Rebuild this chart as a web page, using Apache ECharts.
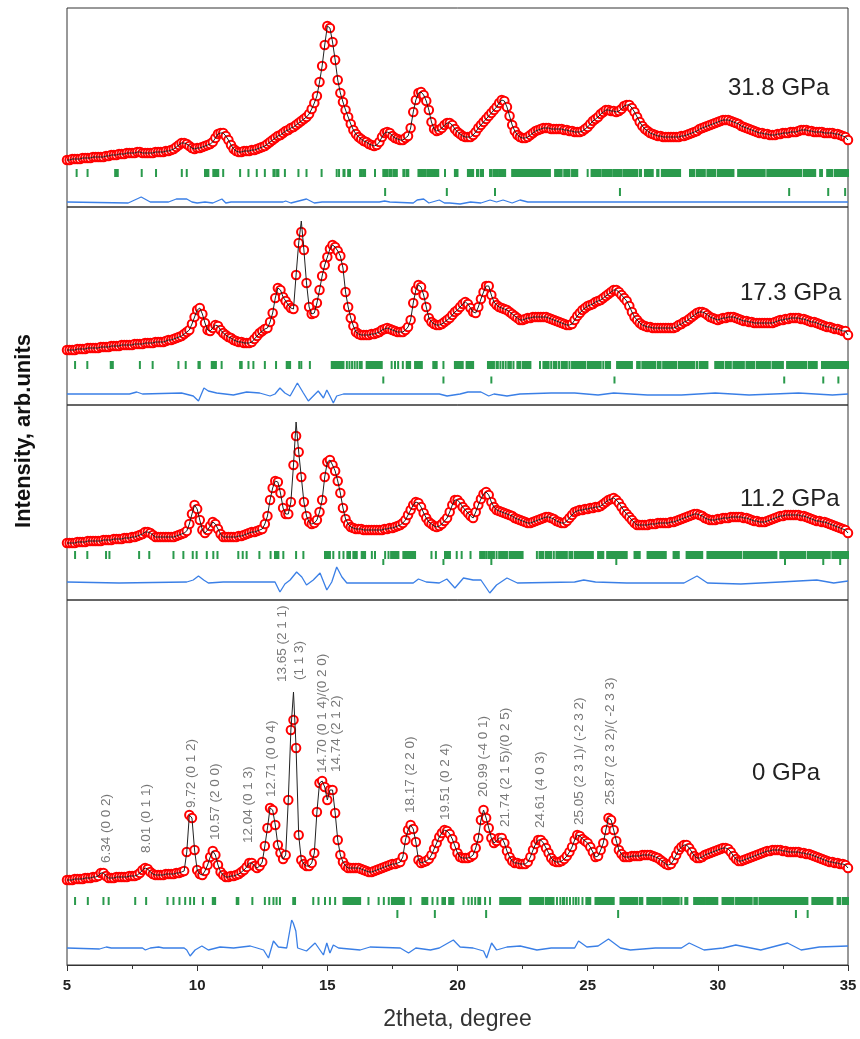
<!DOCTYPE html>
<html>
<head>
<meta charset="utf-8">
<script src="https://cdn.jsdelivr.net/npm/echarts@6/dist/echarts.min.js"></script>
<style>
html,body{margin:0;padding:0;background:#fff;}
#chart{width:860px;height:1039px;}
</style>
</head>
<body>
<div id="chart"></div>
<script>
// ---------------- DATA ----------------
// sampling grid of the observed patterns (2theta, degree)
const theta0 = 5;
const dTheta = 0.1;

// observed intensities (arb. units), one value per 0.1 degree from 5 to 35
const obs318 = [
47,47,48,48,48,48,49,49,49,49,
50,50,50,50,50,51,51,52,52,52,
53,53,53,54,54,54,54,55,55,54,
54,54,54,54,55,55,55,55,56,56,
57,58,60,62,64,64,63,61,59,58,
59,59,60,61,62,63,65,69,73,74,
74,71,67,62,58,56,55,55,56,56,
56,57,57,58,59,60,61,63,65,67,
69,71,72,74,76,77,79,80,82,84,
86,88,90,93,98,104,111,125,141,162,
181,179,165,147,127,114,105,97,90,83,
77,73,70,68,66,65,63,62,61,62,
65,70,74,75,74,71,69,68,67,67,
69,71,79,95,107,114,115,112,106,97,
85,78,76,77,79,82,84,84,82,78,
75,73,71,70,70,70,72,75,79,82,
85,88,91,94,97,100,104,107,106,100,
91,82,76,72,70,69,69,70,72,74,
76,77,78,79,79,79,78,78,78,78,
78,77,77,76,76,75,75,75,76,78,
80,83,86,88,90,93,95,97,97,96,
96,95,96,98,101,102,102,99,95,90,
85,81,78,76,74,73,72,71,71,70,
70,70,70,70,70,70,71,71,72,73,
74,75,76,78,79,80,81,82,83,84,
85,86,87,87,87,86,85,84,83,81,
80,79,78,77,76,75,74,74,73,73,
72,72,72,73,73,74,74,74,75,75,
75,76,77,77,77,76,76,75,75,75,
75,74,74,74,74,73,73,72,71,70,
67];
const obs173 = [
55,55,55,55,56,56,56,56,57,57,
57,57,57,58,58,58,58,59,59,59,
59,60,60,60,60,60,61,61,61,61,
62,62,62,62,63,63,63,63,64,65,
65,66,67,68,69,71,73,75,81,88,
95,97,91,82,75,74,77,80,79,75,
72,70,68,67,65,64,63,63,62,62,
62,63,66,69,72,74,76,77,83,92,
107,117,115,108,104,100,97,96,130,162,
173,155,122,98,91,92,102,115,129,140,
148,156,160,158,154,149,137,113,98,87,
79,73,71,70,70,70,70,71,71,72,
73,75,76,77,76,75,74,73,73,73,
75,78,85,102,115,120,118,110,98,87,
83,81,80,80,81,83,85,87,90,93,
95,98,101,103,101,97,93,92,98,106,
113,119,119,110,103,100,98,97,96,95,
93,91,89,87,85,85,86,87,87,88,
88,88,88,88,88,87,86,85,84,83,
82,81,80,80,81,85,89,92,95,97,
99,100,101,103,104,105,107,109,111,113,
115,115,113,110,107,104,99,93,88,85,
82,80,79,78,78,77,77,77,77,77,
77,77,77,77,78,80,81,83,84,86,
88,90,92,93,93,92,90,88,87,86,
85,86,87,87,88,88,88,87,86,85,
84,84,83,83,82,82,82,82,82,82,
82,82,83,84,85,85,86,86,87,87,
87,87,86,86,85,84,83,83,82,81,
80,79,78,78,77,76,76,75,74,74,
70];
const obs112 = [
57,57,57,57,58,58,58,58,59,59,
59,59,59,59,60,60,60,60,61,61,
61,61,62,62,62,63,63,64,65,66,
68,68,67,65,63,63,63,63,63,63,
63,63,64,65,66,67,69,76,86,95,
91,80,70,67,70,74,78,76,71,66,
63,63,63,63,63,63,64,64,65,66,
67,68,68,69,70,71,76,84,100,112,
119,118,107,92,86,86,98,135,164,148,
123,98,84,78,76,77,80,88,100,123,
138,140,135,129,119,107,92,81,76,73,
72,71,71,71,70,70,70,70,70,70,
70,70,71,71,72,72,73,74,75,77,
80,85,90,95,98,97,93,87,82,78,
76,74,73,74,76,79,82,88,95,100,
100,97,93,90,87,84,82,88,95,101,
106,108,105,98,93,90,89,88,87,86,
85,84,82,81,80,79,78,77,77,78,
79,80,81,82,83,83,82,81,79,78,
77,77,79,82,85,88,89,90,90,91,
91,92,92,93,93,94,96,98,100,101,
102,100,97,93,89,86,83,80,77,75,
75,75,75,75,76,76,76,77,77,77,
77,77,78,78,79,80,81,82,83,84,
85,86,86,85,84,82,81,80,80,80,
81,81,82,82,82,83,83,83,83,83,
82,82,81,80,79,79,78,78,78,79,
80,81,82,83,84,84,85,85,85,85,
85,85,84,84,83,82,81,80,79,79,
78,78,77,76,75,74,73,72,71,70,
67];
const obs0 = [
85,85,85,86,86,86,86,87,87,87,
88,88,89,92,92,89,87,87,87,88,
88,88,88,88,89,89,89,90,92,95,
97,96,93,91,90,90,90,90,91,91,
91,91,92,92,93,94,113,150,147,115,
95,91,90,94,100,108,114,110,100,93,
90,88,88,89,89,90,91,93,95,98,
102,102,99,97,99,103,119,137,157,155,
140,120,112,106,110,165,235,245,217,130,
105,101,99,99,102,112,153,182,184,178,
165,175,175,152,125,110,103,99,97,97,
97,97,97,96,95,94,93,93,94,95,
96,97,98,99,100,101,101,102,103,108,
125,135,140,136,123,105,102,103,104,106,
110,116,122,128,132,135,134,131,126,119,
112,108,107,107,107,108,110,117,127,145,
155,147,137,127,122,124,127,127,122,114,
108,104,102,102,101,101,101,103,108,115,
121,125,125,122,117,112,107,104,103,103,
104,106,109,113,118,125,130,129,126,124,
122,118,113,108,109,115,122,135,147,145,
135,124,115,111,108,108,108,109,109,109,
109,110,110,110,110,109,108,107,105,103,
101,100,101,105,110,115,118,120,120,117,
113,109,107,107,108,110,111,112,113,114,
115,116,117,117,116,113,109,106,104,104,
105,106,107,108,109,110,111,112,113,114,
114,115,115,115,115,114,114,113,113,113,
113,113,112,112,111,111,110,109,108,107,
106,105,104,103,103,102,102,101,101,100,
97];

// calculated profile: where it differs visibly from the observed points [2theta, intensity]
const calcPeaks318 = [];
const calcPeaks173 = [[14.0, 184]];
const calcPeaks112 = [[13.8, 178]];
const calcPeaks0 = [[13.7, 273]];

// difference curves [2theta, obs-calc]
const diff318 = [[5,0],[7.35,-1],[7.85,5],[8.2,0],[8.9,0],[9.2,3],[9.6,3],[9.8,0],[10.0,-1],[10.3,0],[10.6,-1],[10.95,3],[11.1,-1],[11.3,0],[13.3,0],[13.4,1],[13.6,-1],[13.9,1],[14.2,3],[14.5,-1],[14.8,0],[17.0,0],[17.2,1],[17.4,0],[18.3,-1],[18.45,2],[18.7,3],[18.9,-1],[19.3,2],[19.5,-1],[19.7,-1],[20.1,-2],[20.5,0],[20.9,-1],[21.25,2],[21.5,0],[21.75,2],[22.1,-1],[22.4,2],[22.7,0],[35,0]];
const diff173 = [[5,0],[7.4,0],[7.68,2],[7.9,0],[9.4,1],[9.85,-2],[10.05,-7],[10.26,6],[10.43,3],[10.75,1],[11.39,-1],[11.9,2],[12.4,1],[12.8,-2],[12.99,0],[13.18,6],[13.37,1],[13.57,-2],[13.85,11],[14.08,1],[14.27,-7],[14.46,-2],[14.65,3],[14.85,-4],[14.98,4],[15.1,-2],[15.23,-9],[15.36,-2],[15.62,0],[18.9,0],[19.3,0],[19.6,-2],[20.1,0],[20.4,2],[20.9,2],[21.2,-2],[21.4,0],[21.9,-2],[22.4,0],[23.6,1],[24.5,1],[25.4,-1],[26.0,1],[27.3,-1],[28.6,-1],[29.9,1],[31.2,-1],[33.1,1],[34.4,-1],[35,0]];
const diff112 = [[5,0],[7.0,-1],[9.6,0],[9.85,2],[10.05,6],[10.25,2],[10.43,-1],[11,0],[12.6,0],[12.99,0],[13.18,-10],[13.37,-2],[13.57,2],[13.82,10],[14.02,5],[14.2,-3],[14.46,2],[14.72,9],[14.98,-8],[15.17,0],[15.36,15],[15.56,5],[15.75,-1],[18.3,-1],[18.5,3],[18.8,0],[19.3,-1],[19.59,3],[19.9,-6],[20.23,4],[20.6,2],[20.9,2],[21.24,-11],[21.5,-3],[21.9,4],[22.3,-1],[24.5,0],[24.85,2],[25.3,0],[26.5,-1],[28.7,-1],[29.2,6],[29.6,-1],[30.88,-2],[32.4,0],[33.8,2],[34.45,-1],[35,1]];
const diff0 = [[5,0],[6.25,-1],[6.51,1],[6.7,0],[7.9,0],[8.01,-2],[8.2,0],[8.52,1],[8.7,0],[9.5,0],[9.6,-2],[9.73,-8],[9.92,-2],[10.18,2],[10.43,-2],[10.88,1],[11.4,0],[12.04,2],[12.3,0],[12.55,-2],[12.74,-10],[12.93,7],[13.12,1],[13.44,0],[13.63,28],[13.69,25],[13.79,17],[13.86,0],[14.2,-3],[14.53,5],[14.85,-7],[14.98,5],[15.1,-5],[15.23,3],[15.43,0],[16.26,-2],[16.64,1],[17.8,0],[18.12,-5],[18.4,0],[18.96,-2],[19.3,0],[19.84,8],[20.1,1],[20.6,0],[21.0,-3],[21.12,-10],[21.31,5],[21.5,-2],[21.9,1],[22.41,2],[23.05,-2],[23.6,0],[24.5,0],[24.65,7],[24.97,1],[25.4,2],[25.8,9],[26.26,0],[26.64,-2],[27.6,0],[28.6,0],[28.9,5],[29.47,-2],[30.2,0],[30.69,3],[31.65,-2],[32.68,5],[33.2,-2],[33.9,1],[35,2]];

// Bragg reflection positions (single value or [from, to] for dense groups)
const hklA318 = [5.37,5.79,[6.85,6.95],7.87,8.42,9.41,9.6,[10.3,10.43],[10.62,10.81],11.0,11.65,11.97,12.29,12.6,[12.93,12.98],[13.07,13.12],13.37,13.89,14.2,14.78,15.36,15.45,[15.62,15.66],[15.8,15.87],[16.26,16.33],[16.4,16.45],16.83,[17.15,17.3],[17.38,17.47],[17.55,17.67],[17.92,17.97],[18.06,18.11],[18.5,18.6],[18.66,18.78],[18.85,18.95],[19.02,19.1],[19.17,19.26],19.52,[19.9,20.0],[20.4,20.6],[20.75,20.8],[20.9,20.98],[21.25,21.3],[21.38,21.55],[21.6,21.83],[22.1,23.1],[23.15,23.55],[23.75,24.0],[24.1,24.3],[24.4,24.6],25.0,[25.15,25.5],[25.58,25.9],[25.98,26.3],[26.38,26.9],[27.0,27.05],[27.2,27.5],[27.67,27.72],[27.85,28.55],[28.93,29.1],[29.2,29.5],[29.6,29.9],[30.0,30.6],[30.78,31.8],[31.9,33.2],[33.3,33.74],[33.93,34.0],[34.2,34.4],[34.5,35.0]];
const hklB318 = [17.22,19.59,21.44,26.24,32.74,34.24,34.89];
const hklA173 = [5.31,5.78,[6.68,6.76],7.8,8.29,9.28,9.56,[10.05,10.1],[10.56,10.72],10.94,[11.65,11.71],11.97,12.16,12.6,13.03,[13.44,13.48],[13.53,13.57],13.92,14.0,14.33,[15.17,15.62],15.75,15.85,15.95,16.05,16.15,[16.25,16.32],[16.51,17.09],17.47,17.6,17.72,17.9,[18.05,18.18],[18.37,18.63],[19.07,19.2],19.46,[19.9,20.2],[20.35,20.6],[21.17,21.4],[21.5,21.55],21.65,21.75,21.85,[21.95,22.05],22.15,[22.3,22.4],[22.5,22.8],23.17,[23.3,23.5],23.6,[23.7,23.8],23.9,[24.0,24.2],24.3,[24.4,24.9],[25.0,25.5],25.6,[25.7,25.86],[26.13,26.7],[26.9,27.0],[27.1,27.6],[27.7,27.8],[27.9,28.4],[28.5,29.1],29.2,[29.3,29.6],[29.9,30.2],[30.3,30.5],[30.6,31.0],[31.1,31.4],[31.5,32.0],[32.1,32.5],[32.66,33.4],[33.5,33.8],[34.0,35.0]];
const hklB173 = [17.15,19.46,21.3,26.03,32.55,34.05,34.63];
const hklA112 = [5.31,5.78,6.5,6.63,7.77,8.16,9.09,9.47,9.83,9.98,10.37,10.62,10.78,11.58,11.75,11.9,12.39,12.82,[12.99,13.12],13.31,13.8,14.08,[14.91,15.1],15.23,15.46,15.62,[15.77,15.87],[16.0,16.13],[16.32,16.45],16.71,16.83,17.22,17.35,[17.45,17.73],[17.92,18.37],19.0,19.17,[19.52,19.71],19.97,20.16,20.5,[20.87,21.05],21.12,[21.2,21.4],21.5,[21.6,21.9],[22.0,22.5],23.05,[23.15,23.3],[23.4,23.6],23.7,[23.8,24.2],[24.3,24.4],[24.5,25.2],[25.4,25.6],[25.75,26.5],[26.8,27.0],[27.3,28.0],[28.3,28.5],[28.8,29.4],[29.6,30.9],[31.0,32.25],[32.4,33.35],[33.45,34.3],[34.4,35.0]];
const hklB112 = [17.15,19.46,21.3,26.1,32.58,34.05,34.7];
const hklA0 = [5.31,5.8,6.4,6.6,7.62,8.04,8.86,9.09,9.32,9.54,9.73,9.88,10.22,[10.6,10.69],[11.52,11.58],12.12,12.6,12.77,12.93,13.05,13.18,[13.69,13.76],14.46,14.66,14.91,15.1,15.3,[15.62,16.26],16.58,16.97,17.17,17.36,[17.48,17.94],18.2,[18.65,18.84],19.04,19.23,[19.42,19.52],[19.68,19.84],20.23,20.42,20.55,20.68,[20.8,20.87],21.06,21.25,[21.64,22.41],[22.79,23.3],[23.4,23.69],23.82,23.95,[24.05,24.1],24.2,24.32,24.45,24.55,24.65,24.8,[24.95,25.1],[25.3,26.0],[26.26,26.9],[27.0,27.1],[27.29,27.8],[27.9,28.5],28.6,[28.75,28.83],[29.09,29.5],[29.55,29.98],[30.18,30.6],[30.7,31.3],[31.4,31.5],[31.6,33.44],[33.63,34.4],[34.6,34.7],[34.8,35.0]];
const hklB0 = [17.69,19.13,21.1,26.17,33.0,33.45];

// indexed peaks of the 0 GPa pattern: label anchor (2theta, intensity) and text
const peakLabelX = [6.52, 8.03, 9.79, 10.69, 11.97, 12.83, 13.28, 13.91, 14.82, 15.36, 18.18, 19.52, 20.99, 21.83, 23.17, 24.68, 25.86];
const peakLabelY = [102, 112, 157, 125, 122, 168, 283, 285, 192, 193, 152, 145, 168, 138, 137, 140, 160];
const peakLabelText = ['6.34 (0 0 2)', '8.01 (0 1 1)', '9.72 (0 1 2)', '10.57 (2 0 0)', '12.04 (0 1 3)', '12.71 (0 0 4)', '13.65 (2 1 1)', '(1 1 3)', '14.70 (0 1 4)/(0 2 0)', '14.74 (2 1 2)', '18.17 (2 2 0)', '19.51 (0 2 4)', '20.99 (-4 0 1)', '21.74 (2 1 5)/(0 2 5)', '24.61 (4 0 3)', '25.05 (2 3 1)/ (-2 3 2)', '25.87 (2 3 2)/( -2 3 3)'];

const pressures = ['31.8 GPa', '17.3 GPa', '11.2 GPa', '0 GPa'];
const xTicks = {min: 5, max: 35, step: 5};

// ---------------- LAYOUT ----------------
const panels = [
  {obs: obs318, calc: calcPeaks318, diff: diff318, hA: hklA318, hB: hklB318,
   top: 8, height: 199, rowA: 34, rowB: 15, hA_: 8, hB_: 8, diffBase: 5, lx: 728, ly: 90},
  {obs: obs173, calc: calcPeaks173, diff: diff173, hA: hklA173, hB: hklB173,
   top: 207, height: 198, rowA: 40, rowB: 25, hA_: 8, hB_: 7, diffBase: 11, lx: 740, ly: 295},
  {obs: obs112, calc: calcPeaks112, diff: diff112, hA: hklA112, hB: hklB112,
   top: 405, height: 195, rowA: 45, rowB: 38, hA_: 8, hB_: 6, diffBase: 18, lx: 740, ly: 501},
  {obs: obs0, calc: calcPeaks0, diff: diff0, hA: hklA0, hB: hklB0,
   top: 600, height: 365, rowA: 64, rowB: 51, hA_: 8, hB_: 8, diffBase: 17, lx: 752, ly: 775}
];
const LEFT = 67, RIGHT = 12;
const RED = '#ff0000', GREEN = '#2a9a4c', BLUE = '#3a7fe6', CALC = '#222';
const FONT = 'Liberation Sans, Arial, sans-serif';

const grids = [], xAxes = [], yAxes = [], series = [];

function tickSeries(list, level, h, idx) {
  return {
    type: 'custom', xAxisIndex: idx, yAxisIndex: idx, silent: true, z: 2,
    data: list.map(t => Array.isArray(t) ? [t[0], t[1]] : [t, t]),
    renderItem: function (params, api) {
      const p0 = api.coord([api.value(0), level]);
      const p1 = api.coord([api.value(1), level]);
      return {
        type: 'rect',
        shape: {x: p0[0] - 1, y: p0[1] - h / 2, width: Math.max(p1[0] - p0[0], 0) + 2, height: h},
        style: {fill: GREEN}
      };
    }
  };
}

panels.forEach((p, i) => {
  const last = i === panels.length - 1;
  grids.push({left: LEFT, right: RIGHT, top: p.top, height: p.height, show: true,
    borderColor: '#333', borderWidth: 1, backgroundColor: 'transparent', outerBoundsMode: 'none', containLabel: false});
  xAxes.push({
    gridIndex: i, type: 'value', min: xTicks.min, max: xTicks.max, interval: xTicks.step,
    show: true,
    axisLine: {show: last, lineStyle: {color: '#333', width: 1}},
    axisTick: {show: last, length: 6, lineStyle: {color: '#333'}},
    minorTick: {show: last, splitNumber: 2, length: 4, lineStyle: {color: '#333'}},
    splitLine: {show: false},
    axisLabel: {show: last, color: '#222', fontWeight: 'bold', fontSize: 15, fontFamily: FONT, margin: 13},
    name: last ? '2theta, degree' : '',
    nameLocation: 'middle', nameGap: 43,
    nameTextStyle: {fontSize: 23, color: '#333', fontFamily: FONT}
  });
  yAxes.push({gridIndex: i, type: 'value', min: 0, max: p.height, show: false});

  const obsData = p.obs.map((v, k) => [theta0 + k * dTheta, v]);
  const calcData = obsData.map(d => d.slice());
  p.calc.forEach(c => {
    const k = Math.round((c[0] - theta0) / dTheta);
    calcData[k] = [c[0], c[1]];
  });

  series.push({
    type: 'scatter', xAxisIndex: i, yAxisIndex: i, data: obsData, silent: true,
    symbol: 'circle', symbolSize: 8.5, z: 3,
    itemStyle: {color: '#ffffff', borderColor: RED, borderWidth: 2, opacity: 1}
  });
  series.push({
    type: 'line', xAxisIndex: i, yAxisIndex: i, data: calcData, silent: true,
    showSymbol: false, symbol: 'none', z: 4,
    lineStyle: {color: CALC, width: 1}
  });
  series.push(tickSeries(p.hA, p.rowA, p.hA_, i));
  series.push(tickSeries(p.hB, p.rowB, p.hB_, i));
  series.push({
    type: 'line', xAxisIndex: i, yAxisIndex: i, silent: true,
    data: p.diff.map(d => [d[0], p.diffBase + d[1]]),
    showSymbol: false, symbol: 'none', z: 2,
    lineStyle: {color: BLUE, width: 1.3}
  });
});

// peak index labels in the 0 GPa panel
series.push({
  type: 'scatter', xAxisIndex: 3, yAxisIndex: 3, silent: true, symbolSize: 0, z: 6,
  data: peakLabelX.map((x, k) => ({value: [x, peakLabelY[k]], name: peakLabelText[k]})),
  label: {
    show: true, position: 'inside', rotate: 90, align: 'left', verticalAlign: 'middle',
    formatter: pr => pr.name, color: '#555', fontSize: 13.5, fontFamily: FONT
  }
});

const graphics = panels.map((p, i) => ({
  type: 'text', left: p.lx, top: p.ly - 14, silent: true,
  style: {text: pressures[i], font: '24px ' + FONT, fill: '#222'}
}));
graphics.push({
  type: 'text', x: 24, y: 431, rotation: Math.PI / 2, silent: true,
  style: {text: 'Intensity, arb.units', font: 'bold 22px ' + FONT, fill: '#111', align: 'center', verticalAlign: 'middle'}
});

const chart = echarts.init(document.getElementById('chart'), null, {renderer: 'canvas'});
chart.setOption({
  animation: false,
  backgroundColor: '#fff',
  grid: grids,
  xAxis: xAxes,
  yAxis: yAxes,
  series: series,
  graphic: graphics
});
</script>
</body>
</html>
